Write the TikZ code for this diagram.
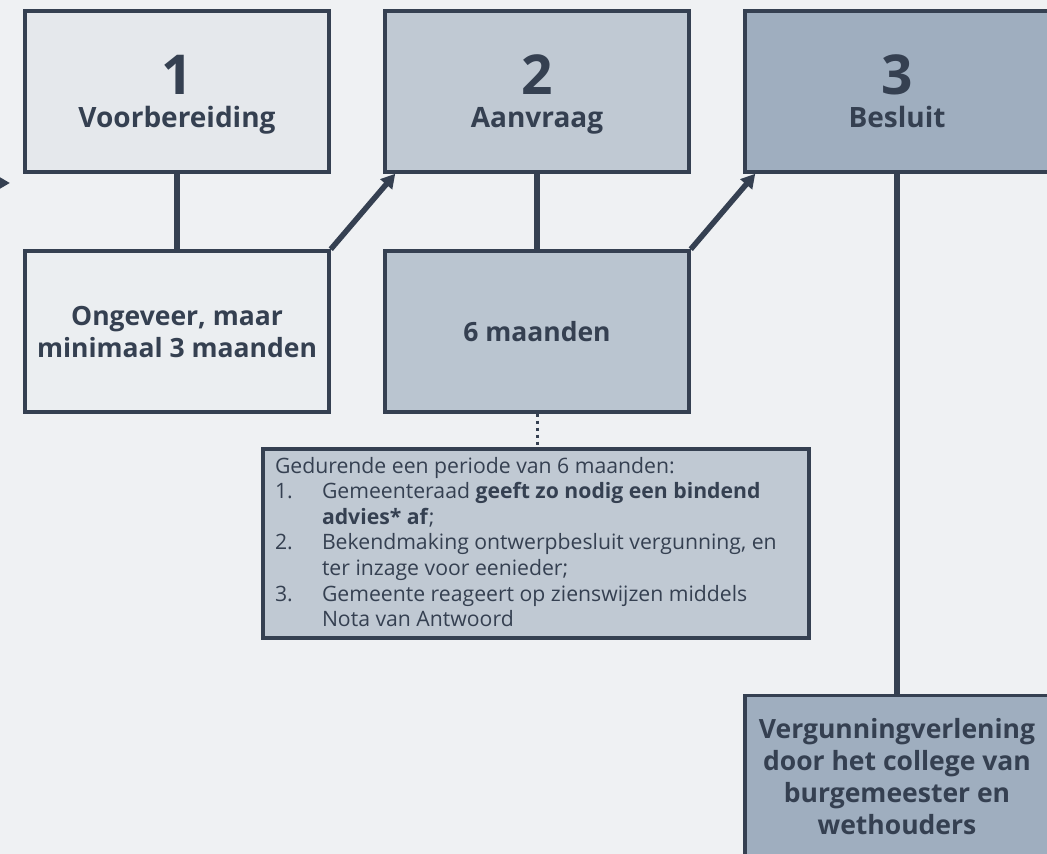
\documentclass[tikz,border=0pt]{standalone}
\usepackage{fontspec}
\setmainfont{Open Sans}
\usetikzlibrary{positioning,arrows.meta}
\definecolor{ink}{HTML}{354051}
\definecolor{paper}{HTML}{EFF1F3}
\definecolor{tintA}{HTML}{E5E8EC}
\definecolor{tintB}{HTML}{EBEEF1}
\definecolor{tintC}{HTML}{C0C9D3}
\definecolor{tintD}{HTML}{BAC5D0}
\definecolor{tintE}{HTML}{9FAEBF}
\newcommand{\stagenum}[1]{{\fontsize{55}{55}\selectfont #1}}
\begin{document}
\begin{tikzpicture}[
  x=1pt, y=1pt,
  stage/.style={rectangle, draw=ink, line width=3.5pt, minimum width=304pt, minimum height=161pt, align=center, text=ink, text depth=0pt, font=\fontsize{28}{33}\selectfont\bfseries},
  span/.style={rectangle, draw=ink, line width=3.5pt, minimum width=304pt, minimum height=161pt, align=center, text=ink, text depth=0pt, font=\fontsize{26.5}{32}\selectfont\bfseries},
  note/.style={rectangle, draw=ink, line width=3.5pt, fill=tintC, inner xsep=12pt, inner ysep=8pt, text=ink, font=\fontsize{21.2}{25.6}\selectfont},
  link/.style={draw=ink, line width=5.5pt},
  flow/.style={draw=ink, line width=5.5pt, -{Triangle[length=14pt,width=15pt]}},
  node distance=360pt
]
\useasboundingbox[fill=paper] (0,0) rectangle (1047,854);

% stages
\node[stage, fill=tintA] (prep) at (177,762.5) {\stagenum{1}\\Voorbereiding};
\node[stage, fill=tintC, right of=prep] (request) {\stagenum{2}\\Aanvraag};
\node[stage, fill=tintE, right of=request] (decision) {\stagenum{3}\\Besluit};

% durations
\node[span, fill=tintB, below of=prep, node distance=240pt] (prepTime) {Ongeveer, maar\\minimaal 3 maanden};
\node[span, fill=tintD, right of=prepTime] (requestTime) {6 maanden};
\node[span, fill=tintE, below of=decision, node distance=684.5pt] (grant) {Vergunningverlening\\door het college van\\burgemeester en\\wethouders};

\node[note, below of=requestTime, node distance=212pt, xshift=-1pt] (notes) {\parbox[c][173pt][t]{522pt}{%
Gedurende een periode van 6 maanden:\\
\makebox[47pt][l]{1.}Gemeenteraad \textbf{geeft zo nodig een bindend}\\
\hspace*{47pt}\textbf{advies* af};\\
\makebox[47pt][l]{2.}Bekendmaking ontwerpbesluit vergunning, en\\
\hspace*{47pt}ter inzage voor eenieder;\\
\makebox[47pt][l]{3.}Gemeente reageert op zienswijzen middels\\
\hspace*{47pt}Nota van Antwoord}};

\coordinate (inflow) at (-30,671);
\coordinate (inflowEnd) at (10,671);

\draw[flow] (inflow) -- (inflowEnd);
\draw[link] (prep) -- (prepTime);
\draw[link] (request) -- (requestTime);
\draw[link] (decision) -- (grant);
\draw[flow] (prepTime.north east) -- ([xshift=12pt]request.south west);
\draw[flow] (requestTime.north east) -- ([xshift=12pt]decision.south west);
\draw[ink, line width=3pt, dash pattern=on 3pt off 4pt] (requestTime.south) -- (requestTime.south |- notes.north);
\end{tikzpicture}
\end{document}
